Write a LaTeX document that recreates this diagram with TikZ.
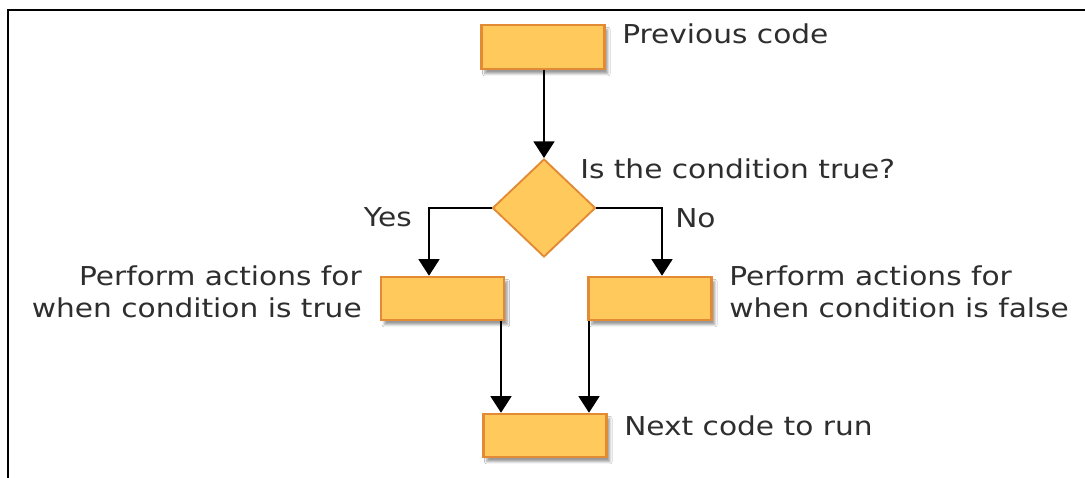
\documentclass[tikz,border=0pt]{standalone}
\usepackage{fontspec}
\newfontfamily\labfont[FakeStretch=1.14]{DejaVu Sans}
\usetikzlibrary{arrows.meta,shapes.geometric,shadows.blur}
\definecolor{boxfill}{HTML}{FFC95B}
\definecolor{boxline}{HTML}{E38A35}
\definecolor{txt}{HTML}{2E2E2E}
\begin{document}
\begin{tikzpicture}[x=0.75pt,y=-0.75pt,
  box/.style={draw=boxline, line width=1.8pt, fill=boxfill, inner sep=0pt,
    minimum width=92.25pt, minimum height=32.25pt,
    blur shadow={shadow xshift=2.5pt, shadow yshift=-3.5pt, shadow blur steps=6, shadow opacity=40}},
  decision/.style={diamond, draw=boxline, line width=1.4pt, fill=boxfill, inner sep=0pt,
    minimum width=77.25pt, minimum height=73.5pt},
  lab/.style={font=\labfont\fontsize{19.5pt}{24pt}\selectfont, text=txt, inner sep=0pt},
  arr/.style={draw=black, line width=2.1pt, line join=miter,
    -{Triangle[width=15.5pt,length=12.5pt]}}
]
\useasboundingbox (0,0) rectangle (1085,478);
\fill[white] (0,0) rectangle (1085,478);
% frame
\draw[line width=1.8pt] (7,10) -- (1085,10);
\draw[line width=0.9pt] (8,10) -- (8,478);

% nodes
\node[box, minimum height=33pt] (prev) at (543,47) {};
\node[decision] (cond) at (544,208) {};
\node[box] (tbox) at (442.5,298.5) {};
\node[box] (fbox) at (650,298.5) {};
\node[box] (next) at (545,435.5) {};

% labels
\node[lab, anchor=base west] (prevlab) at (622,44) {Previous code};
\node[lab, anchor=base west] (condlab) at (580,178) {Is the condition true?};
\node[lab, anchor=base east] (yeslab) at (412,226) {Yes};
\node[lab, anchor=base west] (nolab) at (675,227) {No};
\node[lab, anchor=base east] (tlab1) at (362,285) {Perform actions for};
\node[lab, anchor=base east] (tlab2) at (362,317) {when condition is true};
\node[lab, anchor=base west] (flab1) at (729,285) {Perform actions for};
\node[lab, anchor=base west] (flab2) at (729,317) {when condition is false};
\node[lab, anchor=base west] (nextlab) at (624,435) {Next code to run};

% connector helper coordinates
\coordinate (yesx) at (429,208);
\coordinate (nox) at (662,208);
\coordinate (tx) at (501,0);
\coordinate (fx) at (589,0);

% connectors
\draw[arr] (prev.south -| cond.north) -- (cond.north);
\draw[arr] (cond.west) -- (yesx) -- (yesx |- tbox.north);
\draw[arr] (cond.east) -- (nox) -- (nox |- fbox.north);
\draw[arr] (tx |- tbox.south) -- (tx |- next.north);
\draw[arr] (fx |- fbox.south) -- (fx |- next.north);
\end{tikzpicture}
\end{document}
